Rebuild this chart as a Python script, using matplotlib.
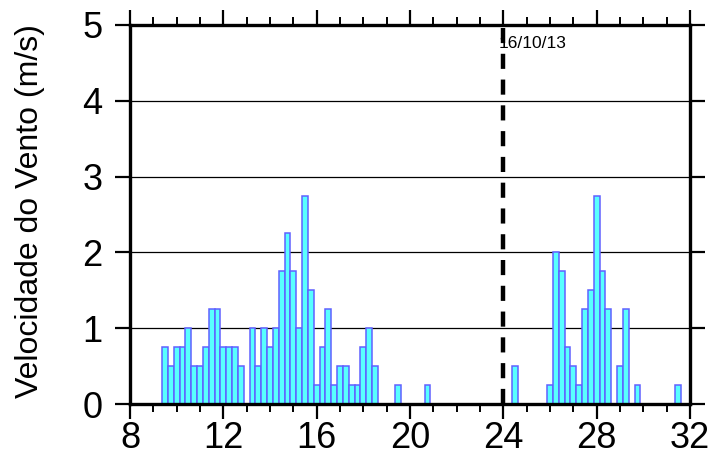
import numpy as np
import matplotlib
matplotlib.use("Agg")
import matplotlib.pyplot as plt
from matplotlib.ticker import MultipleLocator

# Hours (bar centres) and wind speed (m/s)
hours = [9.5, 9.75, 10.0, 10.25, 10.5, 10.75, 11.0, 11.25, 11.5, 11.75,
         12.0, 12.25, 12.5, 12.75,
         13.25, 13.5, 13.75, 14.0, 14.25, 14.5, 14.75, 15.0, 15.25, 15.5, 15.75,
         16.0, 16.25, 16.5, 16.75, 17.0, 17.25, 17.5, 17.75, 18.0, 18.25, 18.5,
         19.5, 20.75,
         24.5, 26.0, 26.25, 26.5, 26.75, 27.0, 27.25, 27.5, 27.75, 28.0, 28.25, 28.5,
         29.0, 29.25, 29.75, 31.5]
speeds = [0.75, 0.5, 0.75, 0.75, 1.0, 0.5, 0.5, 0.75, 1.25, 1.25,
          0.75, 0.75, 0.75, 0.5,
          1.0, 0.5, 1.0, 0.75, 1.0, 1.75, 2.25, 1.75, 1.0, 2.75, 1.5,
          0.25, 0.75, 1.25, 0.25, 0.5, 0.5, 0.25, 0.25, 0.75, 1.0, 0.5,
          0.25, 0.25,
          0.5, 0.25, 2.0, 1.75, 0.75, 0.5, 0.25, 1.25, 1.5, 2.75, 1.75, 1.25,
          0.5, 1.25, 0.25, 0.25]
x_ticks = [8, 12, 16, 20, 24, 28, 32]
y_ticks = [0, 1, 2, 3, 4, 5]
day_marker = 24
day_label = "16/10/13"
ylabel = "Velocidade do Vento (m/s)"

plt.rcParams['font.family'] = ['Liberation Sans', 'DejaVu Sans']

fig = plt.figure(figsize=(7.11, 4.66), dpi=100)
ax = fig.add_axes([130/711, 1-404/466, 560/711, 379/466])

for y in y_ticks[1:-1]:
    ax.axhline(y, color='black', lw=0.9, zorder=1)

ax.bar(hours, speeds, width=0.25, facecolor='#58FFFF', edgecolor='#6060FF',
       linewidth=1.1, zorder=2)

ax.axvline(day_marker, color='black', lw=3.2, ls=(0, (3.4, 2.4)), zorder=3)
ax.text(day_marker - 0.2, 4.75, day_label, fontsize=12.5, ha='left', va='center', zorder=4)

ax.set_xlim(8, 32)
ax.set_ylim(0, 5)
ax.set_xticks(x_ticks)
ax.set_yticks(y_ticks)
ax.xaxis.set_minor_locator(MultipleLocator(1))

for s in ax.spines.values():
    s.set_linewidth(2.4)
    s.set_zorder(5)

ax.tick_params(which='major', direction='out', length=11, width=1.6,
               top=True, right=True, labelsize=26)
ax.tick_params(axis='x', pad=1)
ax.tick_params(axis='y', pad=9)
ax.tick_params(which='minor', direction='out', length=6, width=1.4, top=True, bottom=True)

ax.set_ylabel(ylabel, fontsize=23)
ax.yaxis.set_label_coords(-0.152, 0.51)

fig.savefig("out.png", dpi=100)
